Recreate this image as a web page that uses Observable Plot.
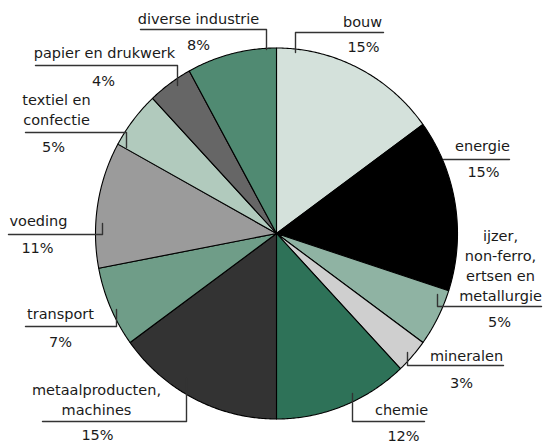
<!DOCTYPE html>
<html><head><meta charset="utf-8">
<script src="https://cdn.jsdelivr.net/npm/d3@7"></script>
<script src="https://cdn.jsdelivr.net/npm/@observablehq/plot@0.6"></script>
<style>html,body{margin:0;padding:0;background:#fff}#chart svg{display:block}</style>
</head><body><div id="chart"></div>
<script>
// ---- data ----
const categories = ["bouw","energie","ijzer, non-ferro, ertsen en metallurgie","mineralen","chemie","metaalproducten, machines","transport","voeding","textiel en confectie","papier en drukwerk","diverse industrie"];
const values = [15,15,5,3,12,15,7,11,5,4,8];
const percentLabels = values.map(v => v + "%");
const labelLines = ["bouw","energie","ijzer,\nnon-ferro,\nertsen en\nmetallurgie","mineralen","chemie","metaalproducten,\nmachines","transport","voeding","textiel en\nconfectie","papier en drukwerk","diverse industrie"];

// ---- styles ----
const colors = ["#d4e1db","#000000","#8fb3a3","#cfcfcf","#2e7258","#333333","#6f9d88","#9b9b9b","#b1cabd","#666666","#508a72"];

// ---- label layout (pixels): name position, percent position, leader polyline ----
const layout = [
  {name:[362,22],  pct:[363,47],  line:[[383,32],[295,32],[295,52]]},
  {name:[482,146], pct:[483,172], line:[[509,159],[443,159]]},
  {name:[500,264], pct:[499,322], line:[[541,306],[437,306],[437,294]]},
  {name:[466,356], pct:[461,383], line:[[503,365],[407,365],[407,352]]},
  {name:[401,410], pct:[403,436], line:[[424,421],[352,421],[352,393]]},
  {name:[96,398],  pct:[97,435],  line:[[42,421],[186,421],[186,378]]},
  {name:[60,314],  pct:[60,342],  line:[[25,326],[116,326],[116,309]]},
  {name:[38,221],  pct:[37,248],  line:[[8,234],[102,234],[102,223]]},
  {name:[56,108],  pct:[53,147],  line:[[25,132],[126,132],[126,147]]},
  {name:[104,53],  pct:[103,81],  line:[[35,65],[177,65],[177,85]]},
  {name:[198,19],  pct:[198,45],  line:[[140,29],[266,29],[266,49]]}
];

const cx = 276, cy = 233, rx = 181, ry = 185.5;
const ux = px => (px - cx) / rx;
const uy = py => (cy - py) / ry;

// pie slices (clockwise from 12 o'clock), in unit coordinates
const total = d3.sum(values);
const slicePts = [];
let cum = 0;
categories.forEach((c, i) => {
  const a0 = 2 * Math.PI * cum / total;
  cum += values[i];
  const a1 = 2 * Math.PI * cum / total;
  slicePts.push({cat: c, x: 0, y: 0});
  const n = Math.max(2, Math.ceil((a1 - a0) / (Math.PI / 360)));
  for (let k = 0; k <= n; k++) {
    const a = a0 + (a1 - a0) * k / n;
    slicePts.push({cat: c, x: Math.sin(a), y: Math.cos(a)});
  }
});

const leaderPts = [];
layout.forEach((l, i) => l.line.forEach(p => leaderPts.push({cat: categories[i], x: ux(p[0]), y: uy(p[1])})));

const nameData = categories.map((c, i) => ({text: labelLines[i], x: ux(layout[i].name[0]), y: uy(layout[i].name[1]), multi: labelLines[i].includes("\n")}));
const pctData = categories.map((c, i) => ({text: percentLabels[i], x: ux(layout[i].pct[0]), y: uy(layout[i].pct[1])}));

const font = {fontFamily: "DejaVu Sans", fontSize: 14.5, fill: "#1a1a1a", lineAnchor: "middle", textAnchor: "middle"};

const chart = Plot.plot({
  width: 543, height: 443,
  margin: 0,
  style: {background: "#fff", fontFamily: "DejaVu Sans"},
  x: {domain: [-1, 1], range: [cx - rx, cx + rx], axis: null},
  y: {domain: [-1, 1], range: [cy + ry, cy - ry], axis: null},
  color: {domain: categories, range: colors},
  marks: [
    Plot.line(slicePts, {x: "x", y: "y", z: "cat", fill: "cat", stroke: "#000", strokeWidth: 1.1, curve: "linear-closed", strokeLinejoin: "round"}),
    Plot.line(leaderPts, {x: "x", y: "y", z: "cat", stroke: "#333", strokeWidth: 1.4}),
    Plot.text(nameData.filter(d => !d.multi), {x: "x", y: "y", text: "text", ...font}),
    Plot.text(nameData.filter(d => d.multi), {x: "x", y: "y", text: "text", ...font, lineHeight: 1.4}),
    Plot.text(pctData, {x: "x", y: "y", text: "text", ...font})
  ]
});
document.getElementById("chart").appendChild(chart);
</script>
</body></html>
